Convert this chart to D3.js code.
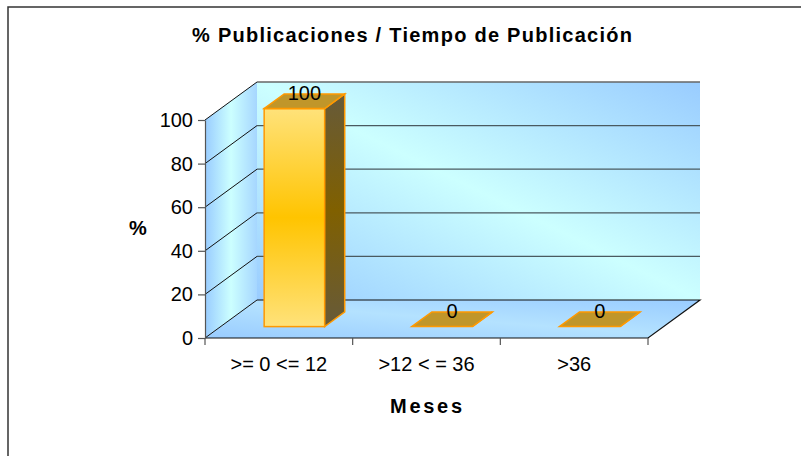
<!DOCTYPE html>
<html>
<head>
  <meta charset="utf-8">
  <title>% Publicaciones / Tiempo de Publicación</title>
  <script src="https://cdn.jsdelivr.net/npm/d3@7"></script>
  <style>
    body { margin: 0; background: #fff; }
    text { font-family: "Liberation Sans", Arial, sans-serif; fill: #000; }
  </style>
</head>
<body>
<script>
  let width = 801;
  let height = 456;

  // datos
  const categorias = ['>= 0 <= 12', '>12 < = 36', '>36'];
  const valores = [100, 0, 0];
  const ticksY = [0, 20, 40, 60, 80, 100];

  let svg = d3.select('body').append('svg')
    .attr('width', width)
    .attr('height', height);

  // profundidad 3D
  const dx = 52, dy = -38;
  const frente = 0.3, fondo = 0.685;

  let x = d3.scaleBand()
    .domain(categorias)
    .range([205, 648])
    .paddingInner(0.59)
    .paddingOuter(0.295);

  let y = d3.scaleLinear()
    .domain([0, 100])
    .range([338, 120]);

  let defs = svg.append('defs');

  function degradado(id, x1, y1, x2, y2, paradas) {
    let g = defs.append('linearGradient').attr('id', id)
      .attr('x1', x1).attr('y1', y1).attr('x2', x2).attr('y2', y2);
    paradas.forEach(p => g.append('stop').attr('offset', p[0]).attr('stop-color', p[1]));
  }
  degradado('pared', 1, 0, 0, 1, [[0, '#99ccff'], [0.5, '#ccffff'], [1, '#99ccff']]);
  degradado('lado', 0, 0, 1, 0, [[0, '#99ccff'], [0.5, '#ccffff'], [1, '#a6d6ff']]);
  degradado('piso', 1, 0, 0, 1, [[0, '#99ccff'], [0.5, '#b4e2ff'], [1, '#99ccff']]);
  degradado('barraFrente', 0, 0, 0, 1, [[0, '#ffe27a'], [0.5, '#ffc400'], [1, '#ffe27a']]);
  degradado('barraLado', 0, 0, 0, 1, [[0, '#665a3a'], [0.5, '#806000'], [1, '#665a3a']]);

  // marco exterior
  svg.append('rect')
    .attr('x', 8).attr('y', 7)
    .attr('width', 820).attr('height', 480)
    .attr('fill', 'none')
    .attr('stroke', '#333')
    .attr('stroke-width', 1.5);

  let x0 = x.range()[0], x1 = x.range()[1];
  let pts = a => a.map(p => p.join(',')).join(' ');

  // pared de fondo
  svg.append('polygon')
    .attr('points', pts([[x0 + dx, y(100) + dy], [x1 + dx, y(100) + dy], [x1 + dx, y(0) + dy], [x0 + dx, y(0) + dy]]))
    .attr('fill', 'url(#pared)');
  svg.append('line')
    .attr('x1', x0 + dx).attr('x2', x1 + dx)
    .attr('y1', y(100) + dy).attr('y2', y(100) + dy)
    .attr('stroke', '#666').attr('stroke-width', 1.5);

  // pared lateral
  svg.append('polygon')
    .attr('points', pts([[x0, y(100)], [x0 + dx, y(100) + dy], [x0 + dx, y(0) + dy], [x0, y(0)]]))
    .attr('fill', 'url(#lado)');

  // piso
  svg.append('polygon')
    .attr('points', pts([[x0, y(0)], [x0 + dx, y(0) + dy], [x1 + dx, y(0) + dy], [x1, y(0)]]))
    .attr('fill', 'url(#piso)');

  // líneas de cuadrícula
  let grid = svg.append('g');
  grid.selectAll('.gh').data(ticksY.filter(t => t > 0 && t < 100)).enter()
    .append('line')
    .attr('x1', x0 + dx).attr('x2', x1 + dx)
    .attr('y1', d => y(d) + dy).attr('y2', d => y(d) + dy)
    .attr('stroke', '#4a5a60').attr('stroke-width', 1.2);
  grid.selectAll('.gd').data(ticksY).enter()
    .append('line')
    .attr('x1', x0).attr('y1', d => y(d))
    .attr('x2', x0 + dx).attr('y2', d => y(d) + dy)
    .attr('stroke', '#111').attr('stroke-width', 1);

  // bordes del piso
  svg.append('polyline')
    .attr('points', pts([[x0 + dx, y(0) + dy], [x1 + dx, y(0) + dy], [x1, y(0)], [x0, y(0)]]))
    .attr('fill', 'none').attr('stroke', '#111').attr('stroke-width', 1.2);

  // barras
  let bw = x.bandwidth();
  let fx = dx * frente, fy = dy * frente;
  let bx = dx * fondo, by = dy * fondo;

  let barras = svg.selectAll('.barra').data(valores).enter()
    .append('g').attr('class', 'barra');

  barras.append('rect')
    .attr('x', (d, i) => x(categorias[i]) + fx)
    .attr('y', d => y(d) + fy)
    .attr('width', bw)
    .attr('height', d => y(0) - y(d))
    .attr('fill', 'url(#barraFrente)')
    .attr('stroke', '#ff9900').attr('stroke-width', 1.5);

  barras.append('polygon')
    .attr('points', (d, i) => {
      let xr = x(categorias[i]) + bw;
      return pts([[xr + fx, y(d) + fy], [xr + bx, y(d) + by], [xr + bx, y(0) + by], [xr + fx, y(0) + fy]]);
    })
    .attr('fill', 'url(#barraLado)')
    .attr('stroke', '#ff9900').attr('stroke-width', 1.5);

  barras.append('polygon')
    .attr('points', (d, i) => {
      let xl = x(categorias[i]);
      return pts([[xl + fx, y(d) + fy], [xl + bw + fx, y(d) + fy], [xl + bw + bx, y(d) + by], [xl + bx, y(d) + by]]);
    })
    .attr('fill', '#c0962a')
    .attr('stroke', '#ff9900').attr('stroke-width', 1.5);

  // etiquetas de datos
  barras.append('text')
    .attr('x', (d, i) => x(categorias[i]) + bw / 2 + (fx + bx) / 2)
    .attr('y', d => y(d) + (fy + by) / 2 - 1)
    .attr('text-anchor', 'middle')
    .style('font-size', '20px')
    .text(d => d);

  // eje Y
  let ejeY = svg.append('g')
    .attr('transform', `translate(${x0},0)`)
    .call(d3.axisLeft(y).tickValues(ticksY).tickSize(7).tickSizeOuter(0).tickPadding(5));
  ejeY.selectAll('text').style('font-size', '20px').style('font-family', '"Liberation Sans", Arial, sans-serif');
  ejeY.selectAll('path, line').attr('stroke', '#555').attr('stroke-width', 1.2);

  // eje X
  let ejeX = svg.append('g')
    .attr('transform', `translate(0,${y(0)})`)
    .call(d3.axisBottom(x).tickSize(0).tickPadding(19));
  ejeX.select('.domain').remove();
  ejeX.selectAll('text').style('font-size', '20px').style('font-family', '"Liberation Sans", Arial, sans-serif');
  let bordes = categorias.map((c, i) => x0 + i * x.step()).concat([x1]);
  ejeX.selectAll('.borde').data(bordes).enter()
    .append('line')
    .attr('x1', d => d).attr('x2', d => d)
    .attr('y1', 0).attr('y2', 7)
    .attr('stroke', '#555').attr('stroke-width', 1.2);

  // títulos
  svg.append('text')
    .attr('x', 412).attr('y', 42)
    .attr('text-anchor', 'middle')
    .attr('textLength', 440)
    .attr('lengthAdjust', 'spacing')
    .style('font-size', '20px').style('font-weight', 'bold')
    .text('% Publicaciones / Tiempo de Publicación');

  svg.append('text')
    .attr('x', 138).attr('y', 235)
    .attr('text-anchor', 'middle')
    .style('font-size', '20px').style('font-weight', 'bold')
    .text('%');

  svg.append('text')
    .attr('x', 426).attr('y', 413)
    .attr('text-anchor', 'middle')
    .attr('textLength', 72)
    .attr('lengthAdjust', 'spacing')
    .style('font-size', '20px').style('font-weight', 'bold')
    .text('Meses');
</script>
</body>
</html>
